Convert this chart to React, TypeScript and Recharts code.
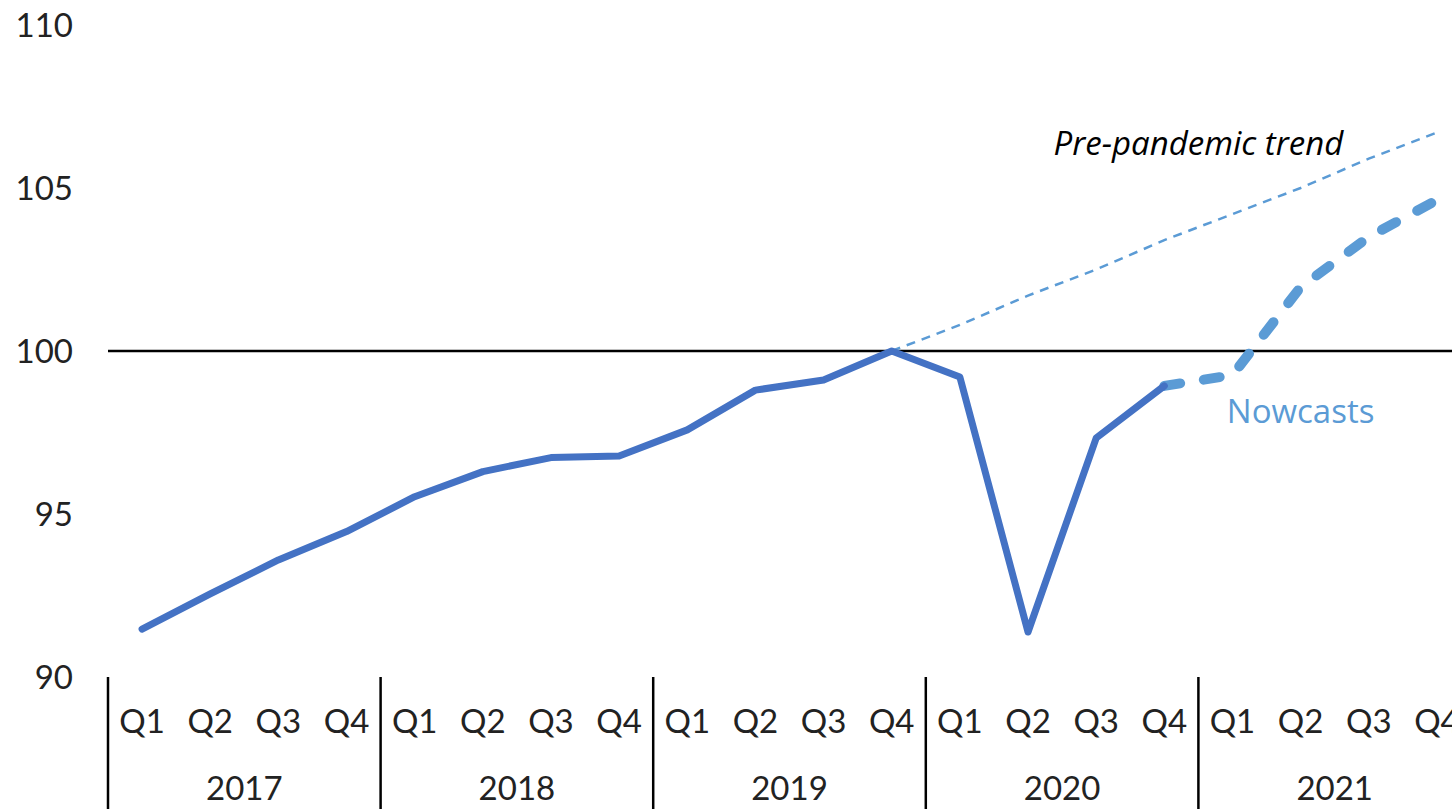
import React from 'react';
import { LineChart, Line, XAxis, YAxis, ReferenceLine, ReferenceDot } from 'recharts';

const YEARS = ['2017', '2018', '2019', '2020', '2021'];
const QUARTERS = ['Q1', 'Q2', 'Q3', 'Q4'];

// GDP index, 2019 Q4 = 100
const ACTUAL = [
    91.47, 92.55, 93.59, 94.46,
    95.53, 96.3, 96.73, 96.78,
    97.58, 98.8, 99.11, 100.0,
    99.2, 91.38, 97.33, 98.93,
    null, null, null, null,
];
const NOWCAST = [
    null, null, null, null,
    null, null, null, null,
    null, null, null, null,
    null, null, null, 98.93,
    99.26, 101.96, 103.5, 104.63,
];
const TREND = [
    null, null, null, null,
    null, null, null, null,
    null, null, null, 100.0,
    100.8, 101.7, 102.5, 103.4,
    104.2, 105.0, 105.9, 106.7,
];
const Y_TICKS = [90, 95, 100, 105, 110];

const CHART_W = 1471;
const CHART_H = 809;
const Y_AXIS_W = 108;
const TOP = 25;
const X_AXIS_H = 132;

const FONT = 'Lato, "Open Sans", sans-serif';
const NOTE_FONT = '"Open Sans", Lato, sans-serif';
const TEXT = '#222';
const DARK_BLUE = '#4472C4';
const LIGHT_BLUE = '#5B9BD5';

const data = YEARS.flatMap((year, yi) =>
    QUARTERS.map((quarter, qi) => {
        const i = yi * QUARTERS.length + qi;
        return {
            period: `${year} ${quarter}`,
            actual: ACTUAL[i],
            nowcast: NOWCAST[i],
            trend: TREND[i],
        };
    })
);

const BAND = (CHART_W - Y_AXIS_W) / data.length;

const QuarterTick = (props: any) => {
    const { x, y, payload } = props;
    const [year, quarter] = String(payload.value).split(' ');
    return (
        <g>
            <text
                x={x}
                y={y + 43}
                textAnchor="middle"
                dominantBaseline="central"
                fill={TEXT}
                fontSize={33}
                fontFamily={FONT}
            >
                {quarter}
            </text>
            {quarter === 'Q1' && (
                <line x1={x - BAND / 2} x2={x - BAND / 2} y1={y} y2={y + X_AXIS_H} stroke="#000" strokeWidth={2.5} />
            )}
            {quarter === 'Q2' && (
                <text
                    x={x + BAND / 2}
                    y={y + 110}
                    textAnchor="middle"
                    dominantBaseline="central"
                    fill={TEXT}
                    fontSize={33}
                    fontFamily={FONT}
                >
                    {year}
                </text>
            )}
        </g>
    );
};

const note = (text: string, shift: number, color: string, italic: boolean) => (props: any) => {
    const vb = props.viewBox || {};
    const cx = (vb.x ?? 0) + (vb.width ?? 0) / 2;
    const cy = (vb.y ?? 0) + (vb.height ?? 0) / 2;
    return (
        <text
            x={cx + shift}
            y={cy}
            textAnchor="middle"
            dominantBaseline="central"
            fill={color}
            fontSize={33}
            fontStyle={italic ? 'italic' : 'normal'}
            fontFamily={NOTE_FONT}
        >
            {text}
        </text>
    );
};

export default function App() {
    return (
        <div style={{ position: 'absolute', left: 0, top: 0, width: 1452, height: 809, overflow: 'hidden', background: '#fff' }}>
            <LineChart width={CHART_W} height={CHART_H} data={data} margin={{ top: TOP, right: 0, bottom: 0, left: 0 }}>
                <XAxis
                    dataKey="period"
                    scale="band"
                    interval={0}
                    axisLine={false}
                    tickLine={false}
                    tickSize={0}
                    tickMargin={0}
                    height={X_AXIS_H}
                    tick={<QuarterTick />}
                />
                <YAxis
                    domain={[90, 110]}
                    ticks={Y_TICKS}
                    width={Y_AXIS_W}
                    axisLine={false}
                    tickLine={false}
                    tickSize={0}
                    tickMargin={35}
                    tick={{ fill: TEXT, fontSize: 33, fontFamily: FONT }}
                />
                <ReferenceLine y={100} stroke="#000" strokeWidth={2.5} />
                <Line
                    dataKey="trend"
                    stroke={LIGHT_BLUE}
                    strokeWidth={2.5}
                    strokeDasharray="9 7"
                    dot={false}
                    connectNulls={false}
                    isAnimationActive={false}
                />
                <Line
                    dataKey="nowcast"
                    stroke={LIGHT_BLUE}
                    strokeWidth={10}
                    strokeDasharray="16 24"
                    strokeLinecap="round"
                    strokeLinejoin="round"
                    dot={false}
                    isAnimationActive={false}
                />
                <Line
                    dataKey="actual"
                    stroke={DARK_BLUE}
                    strokeWidth={7}
                    strokeLinecap="round"
                    strokeLinejoin="round"
                    dot={false}
                    isAnimationActive={false}
                />
                <ReferenceDot
                    x="2021 Q1"
                    y={106.4}
                    r={0}
                    stroke="none"
                    fill="none"
                    label={{ content: note('Pre-pandemic trend', -BAND / 2, '#000', true) }}
                />
                <ReferenceDot
                    x="2021 Q2"
                    y={98.16}
                    r={0}
                    stroke="none"
                    fill="none"
                    label={{ content: note('Nowcasts', 0, LIGHT_BLUE, false) }}
                />
            </LineChart>
        </div>
    );
}
